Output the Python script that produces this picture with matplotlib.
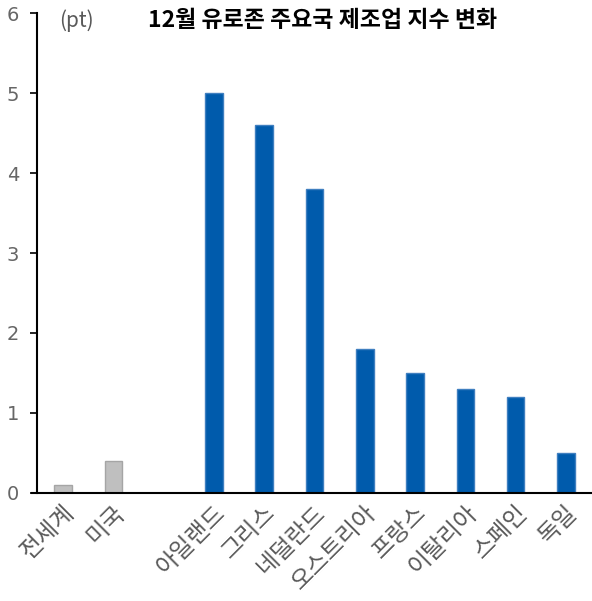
import matplotlib
matplotlib.use("Agg")
import matplotlib.pyplot as plt

plt.rcParams['font.family'] = ['Noto Sans CJK KR', 'DejaVu Sans']

categories = ['전세계', '미국', '', '아일랜드', '그리스', '네덜란드',
              '오스트리아', '프랑스', '이탈리아', '스페인', '독일']
values = [0.1, 0.4, 0.0, 5.0, 4.6, 3.8, 1.8, 1.5, 1.3, 1.2, 0.5]
groups = ['ref', 'ref', 'gap', 'euro', 'euro', 'euro', 'euro', 'euro', 'euro', 'euro', 'euro']
yticks = [0, 1, 2, 3, 4, 5, 6]

face = {'ref': '#BFBFBF', 'euro': '#005BAC', 'gap': 'none'}
edge = {'ref': '#A5A5A5', 'euro': '#3F7FC0', 'gap': 'none'}

fig = plt.figure(figsize=(5.92, 6.01), dpi=100)
ax = fig.add_axes([0.0625, 0.18, 0.9375, 0.798])

x = list(range(len(categories)))
for xi, v, g in zip(x, values, groups):
    if g == 'gap':
        continue
    ax.bar(xi, v, width=0.35, color=face[g], edgecolor=edge[g], linewidth=1.0)

ax.set_xlim(-0.52, 10.52)
ax.set_ylim(0, 6)
ax.set_yticks(yticks)
ax.set_yticklabels([str(t) for t in yticks], color='#666666', fontsize=14,
                   family=['DejaVu Sans'])
ax.tick_params(axis='y', direction='out', length=5, width=1.2, pad=8)
ax.tick_params(axis='x', length=0, pad=6)
ax.set_xticks(x)
ax.set_xticklabels(categories, rotation=45, ha='right', va='top',
                   rotation_mode='anchor', color='#595959', fontsize=17,
                   fontweight='light')

for side in ['top', 'right']:
    ax.spines[side].set_visible(False)
ax.spines['left'].set_linewidth(1.5)
ax.spines['bottom'].set_linewidth(1.5)
ax.spines['bottom'].set_bounds(-0.62, 10.52)

ax.text(0.04, 0.985, '(pt)', transform=ax.transAxes, color='#595959',
        fontsize=15, va='center', ha='left', fontweight='light')
ax.text(0.515, 0.985, '12월 유로존 주요국 제조업 지수 변화', transform=ax.transAxes,
        color='black', fontsize=16.5, fontweight='bold', va='center', ha='center')

fig.savefig('out.png', dpi=100)
